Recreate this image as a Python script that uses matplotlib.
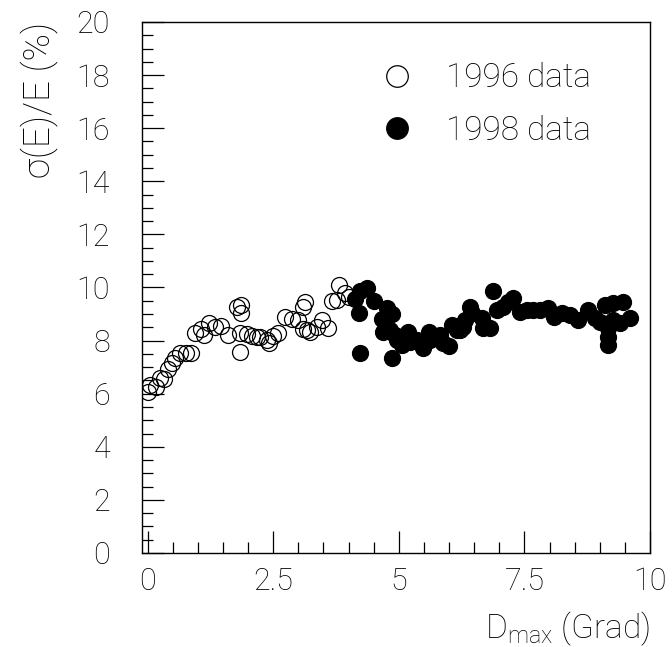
import matplotlib
matplotlib.use("Agg")
import matplotlib.pyplot as plt
from matplotlib.ticker import MultipleLocator

plt.rcParams['font.family'] = ['Roboto', 'DejaVu Sans']
plt.rcParams['font.weight'] = 'light'
plt.rcParams['axes.labelweight'] = 'light'
plt.rcParams['mathtext.fontset'] = 'custom'
plt.rcParams['mathtext.rm'] = 'Roboto:light'
plt.rcParams['mathtext.default'] = 'rm'

# 1996 test-beam points: resolution vs. D_max
x96 = [0.0, 0.05, 0.16, 0.25, 0.33, 0.41, 0.48, 0.55, 0.65, 0.76, 0.87,
       0.95, 1.06, 1.13, 1.22, 1.34, 1.46, 1.61, 1.78, 1.86, 1.87, 1.84,
       1.84, 1.97, 2.07, 2.17, 2.24, 2.37, 2.41, 2.50, 2.60, 2.74, 2.87,
       2.99, 3.10, 3.13, 3.10, 3.17, 3.23, 3.37, 3.47, 3.60, 3.67, 3.77,
       3.82, 3.93, 4.00]
y96 = [6.05, 6.33, 6.26, 6.58, 6.55, 6.92, 7.14, 7.33, 7.52, 7.54, 7.52,
       8.30, 8.42, 8.21, 8.65, 8.52, 8.55, 8.21, 9.28, 9.34, 9.03, 8.27,
       7.58, 8.25, 8.17, 8.12, 8.12, 8.02, 7.90, 8.17, 8.27, 8.90, 8.80,
       8.78, 9.28, 9.47, 8.43, 8.40, 8.34, 8.52, 8.78, 8.46, 9.50, 9.53,
       10.09, 9.78, 9.65]

# 1998 points
x98 = [4.12, 4.23, 4.37, 4.51, 4.20, 4.23, 4.66, 4.69, 4.76, 4.86, 4.73,
       4.83, 4.86, 4.93, 4.96, 5.06, 5.19, 5.22, 5.36, 5.49, 5.61, 5.62,
       5.76, 5.82, 5.89, 5.99, 6.05, 6.15, 6.22, 6.28, 6.32, 6.42, 6.45,
       6.65, 6.68, 6.82, 6.87, 6.95, 7.08, 7.18, 7.28, 7.41, 7.55, 7.68,
       7.81, 7.96, 8.08, 8.24, 8.41, 8.57, 8.77, 8.91, 9.00, 9.10, 9.27,
       9.47, 9.17, 9.17, 9.17, 9.27, 9.40, 9.60]
y98 = [9.57, 9.87, 9.97, 9.50, 9.05, 7.53, 8.80, 8.34, 9.22, 9.00, 8.65,
       8.40, 7.33, 8.21, 8.02, 7.83, 8.34, 7.96, 8.02, 7.71, 8.34, 8.02,
       8.09, 8.21, 7.90, 7.80, 8.59, 8.40, 8.40, 8.52, 8.78, 9.28, 9.03,
       8.84, 8.46, 8.46, 9.88, 9.15, 9.28, 9.47, 9.59, 9.09, 9.15, 9.15,
       9.15, 9.22, 8.90, 9.03, 8.96, 8.78, 9.15, 8.84, 8.71, 9.34, 9.40,
       9.47, 8.46, 8.15, 7.83, 8.78, 8.65, 8.84]

fig = plt.figure(figsize=(6.72, 6.47), dpi=100)
ax = fig.add_axes([0.2113, 0.1453, 0.7560, 0.8207])

ax.plot(x96, y96, 'o', ms=11.5, mfc='none', mec='black', mew=0.9,
        label='1996 data')
ax.plot(x98, y98, 'o', ms=11.5, mfc='black', mec='black', mew=0.9,
        label='1998 data')

ax.set_xlim(-0.11, 10)
ax.set_ylim(0, 20)
ax.xaxis.set_minor_locator(MultipleLocator(0.5))
ax.yaxis.set_major_locator(MultipleLocator(2))
ax.yaxis.set_minor_locator(MultipleLocator(0.5))
ax.set_xticks([0, 2.5, 5, 7.5, 10])
ax.set_xticklabels(['0', '2.5', '5', '7.5', '10'])

ax.tick_params(which='both', direction='in', top=False, right=False,
               labelsize=22, width=0.9)
ax.tick_params(axis='x', which='major', length=16, pad=10)
ax.tick_params(axis='x', which='minor', length=8)
ax.tick_params(axis='y', which='major', length=16, pad=23)
ax.tick_params(axis='y', which='minor', length=8)
for s in ax.spines.values():
    s.set_linewidth(1.0)

ax.set_xlabel('D$_{max}$ (Grad)', fontsize=24, loc='right', labelpad=10)
ax.set_ylabel('σ(E)/E (%)', fontsize=26.5, loc='top', labelpad=13)

ax.legend(loc='center left', bbox_to_anchor=(0.476, 0.8445), frameon=False,
          fontsize=24, markerscale=1.35, handlelength=0.82,
          handletextpad=1.05, labelspacing=0.62, borderpad=0, borderaxespad=0)

fig.savefig('out.png', dpi=100)
